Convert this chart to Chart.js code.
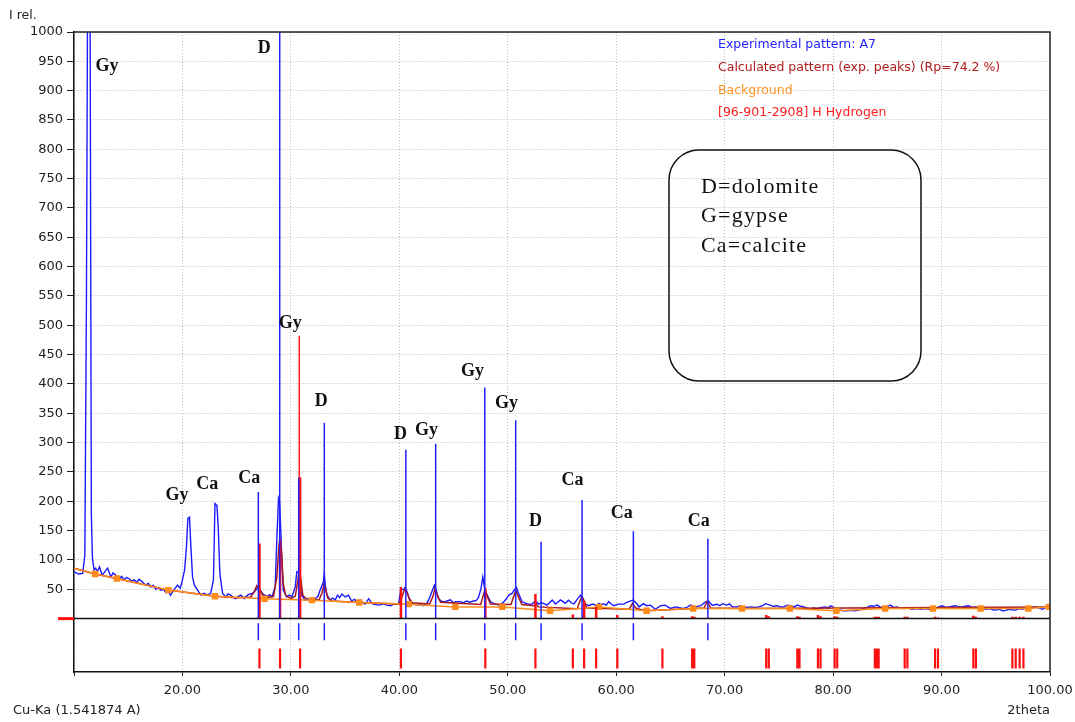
<!DOCTYPE html>
<html>
<head>
<meta charset="utf-8">
<script src="https://cdn.jsdelivr.net/npm/chart.js@4.4.1/dist/chart.umd.min.js"></script>
<style>
  html, body { margin: 0; padding: 0; background: #fff; }
  #wrap { width: 1075px; height: 722px; }
</style>
</head>
<body>
<div id="wrap"><canvas id="xrd" width="1075" height="722"></canvas></div>
<script>
// experimental pattern A7, [2theta, I rel.]
var experimental = [
  [10.0,80],[10.4,76],[10.8,77],[11.0,108],[11.15,555],[11.3,1300],[11.45,1300],[11.6,176],[11.7,103],[11.85,83],
  [12.0,86],[12.15,80],[12.35,88],[12.6,74],[12.85,80],[13.1,86],[13.4,71],[13.6,78],[13.85,74],[14.15,68],
  [14.4,72],[14.6,66],[14.85,70],[15.1,68],[15.3,64],[15.55,66],[15.8,62],[16.0,67],[16.3,63],[16.6,57],
  [16.85,60],[17.1,54],[17.3,57],[17.55,50],[17.8,53],[18.0,48.6],[18.25,50],[18.5,44],[18.7,46],[18.9,40],
  [19.2,48.6],[19.55,57],[19.8,52],[20.0,66],[20.2,83],[20.37,122],[20.5,171],[20.65,173],[20.78,122],[20.93,71],
  [21.1,57],[21.4,48.6],[21.7,40],[22.0,43],[22.3,40],[22.6,43],[22.86,66],[23.0,196],[23.18,193],[23.3,156],
  [23.45,77],[23.7,43],[24.0,37],[24.2,42],[24.45,40],[24.7,36],[24.9,34],[25.15,38],[25.4,40],[25.7,34],
  [26.0,40],[26.25,42],[26.45,43],[26.7,47],[26.87,51],[27.0,55],[27.17,48.6],[27.4,42],[27.6,40],[27.8,38],
  [28.05,41],[28.25,37],[28.55,54],[28.7,134],[28.86,205],[28.95,200],[29.08,145],[29.2,83],[29.3,48.6],[29.6,37],
  [29.85,40],[30.1,37],[30.4,54],[30.55,80],[30.7,80],[30.86,60],[31.0,40],[31.3,31.5],[31.55,34],[31.8,28.6],
  [32.0,33],[32.25,34],[32.5,38],[32.7,48.6],[33.0,63],[33.08,76],[33.17,57],[33.33,40],[33.63,31.5],[33.85,35],
  [34.1,32],[34.3,40],[34.5,36],[34.7,42],[35.0,37],[35.3,40],[35.6,30],[35.85,33],[36.1,29],[36.4,32],
  [36.6,27],[36.86,24.7],[37.17,34],[37.4,28],[37.6,24.7],[38.1,23],[38.5,25],[38.86,23],[39.2,22],[39.47,24.7],
  [39.93,25],[40.15,51],[40.4,49],[40.55,54],[40.7,46],[41.0,29],[41.3,25],[41.63,23],[42.0,24],[42.24,22],
  [42.5,25],[42.7,31.5],[43.0,46],[43.23,57],[43.4,49],[43.6,34],[43.94,29],[44.24,29],[44.4,30],[44.7,32],
  [45.0,27],[45.2,29],[45.6,29],[45.9,27],[46.2,30],[46.5,28],[46.85,30],[47.1,31],[47.3,36],[47.53,51],
  [47.7,71],[47.87,51],[48.1,40],[48.4,29],[48.6,27],[48.86,24.7],[49.3,23],[49.55,27],[49.8,32],[50.1,40],
  [50.4,43],[50.6,49],[50.8,53],[51.0,43],[51.3,29],[51.55,27],[51.8,25],[52.24,24.7],[52.55,30],[52.85,24.7],
  [53.05,27],[53.3,26],[53.6,23],[53.85,27],[54.1,31.5],[54.4,25],[54.6,28],[54.85,32],[55.1,29],[55.3,26],
  [55.6,31.5],[55.85,27],[56.1,25],[56.45,34],[56.7,40],[56.88,34],[57.07,25],[57.47,22],[57.7,24],[57.93,24.7],
  [58.15,22],[58.4,26],[58.6,24],[58.85,25],[59.1,23],[59.3,29],[59.55,25],[59.77,22],[60.2,24.7],[60.7,24.7],
  [60.9,27],[61.15,29],[61.56,31.5],[61.93,25],[62.1,20],[62.5,25.5],[62.8,22],[63.15,23],[63.6,16],[64.1,22],
  [64.5,23],[65.0,17.3],[65.3,19],[65.6,20],[65.9,18],[66.2,17.3],[66.5,19],[66.85,23],[67.3,20],[67.8,22],
  [68.2,28],[68.5,30],[68.85,23],[69.3,24.5],[69.55,22],[69.8,25.5],[70.2,23],[70.45,25],[70.7,20],[71.15,20],
  [71.4,22],[71.77,20],[72.1,19],[72.4,20],[72.8,19],[73.15,20],[73.5,22],[73.77,25.5],[74.2,23],[74.5,21],
  [74.85,22],[75.1,20],[75.45,20],[75.75,23],[76.05,22],[76.4,20],[76.7,23],[77.0,21],[77.3,20],[77.6,18],
  [77.9,16],[78.2,18],[78.5,17],[78.9,19],[79.3,20],[79.5,18],[79.77,22],[80.1,19],[80.4,14.5],[80.7,14.5],
  [81.0,13.3],[81.3,13.3],[81.7,14],[82.07,13.3],[82.45,15],[82.84,17.3],[83.15,19],[83.45,22],[83.75,21],[84.07,23],
  [84.4,19],[84.7,20],[85.0,21],[85.3,23],[85.6,19],[85.9,20],[86.2,18],[86.5,17],[86.9,18],[87.3,16],
  [87.7,17],[88.07,16],[88.45,17],[88.84,16],[89.15,18],[89.45,17],[89.75,20],[90.07,22],[90.4,19],[90.7,20],
  [91.0,21],[91.3,22],[91.6,20],[91.9,20],[92.2,21],[92.5,22],[92.8,19],[93.15,20],[93.45,18],[93.77,17],
  [94.1,16],[94.4,17],[94.7,15],[95.0,14.5],[95.3,16],[95.6,13.3],[95.9,14],[96.2,16],[96.5,15],[96.84,14.5],
  [97.15,17],[97.46,16],[97.75,18],[98.07,17],[98.4,19],[98.7,20],[99.0,18],[99.3,16],[99.6,19],[99.9,20],[100,21]
];

// calculated pattern (exp. peaks)
var calculated = [
  [10,86],[11.95,76],[13.95,68.5],[18.7,48.6],[23.0,38],[25.0,35.5],[26.3,37],[26.6,45],[26.85,56],[27.1,50],
  [27.4,40],[27.8,36],[28.4,38],[28.7,70],[28.9,125],[29.0,134],[29.15,110],[29.3,60],[29.5,40],[30.0,34],
  [30.4,38],[30.6,60],[30.75,80],[30.9,70],[31.1,40],[31.5,32],[32.6,32],[32.9,45],[33.05,60],[33.2,50],
  [33.4,35],[33.8,30],[36.3,27.6],[40.0,25],[40.3,40],[40.5,50],[40.7,45],[40.9,35],[41.2,27],[42.8,25],
  [43.1,38],[43.3,52],[43.5,40],[43.8,28],[47.5,24],[47.75,40],[47.9,50],[48.1,38],[48.4,25],[50.3,24],
  [50.55,38],[50.75,48],[51.0,36],[51.3,24],[52.4,22],[52.6,26],[52.8,20],[56.4,17],[56.7,32],[56.85,38],
  [57.05,30],[57.3,18],[61.2,16],[61.5,26],[61.8,18],[62.3,15],[62.8,13.3],[67.1,17.3],[68.1,18],[68.4,30],
  [68.7,18],[71.6,17.3],[100,20]
];

// background points
var background = [
  [10,86],[11.95,76],[13.95,68.5],[18.7,48.6],[23.0,38],[27.57,34],[31.95,31.5],[36.3,27.6],[40.86,24.7],[45.17,20],
  [49.5,20],[53.9,13.3],[58.4,20],[62.8,13.3],[67.1,17.3],[71.6,17.3],[76.0,17.3],[80.3,13.3],[84.8,17.3],[89.2,17.3],
  [93.6,17.3],[98.0,17.3],[99.9,20]
];

// peak sticks of the experimental pattern [2theta, height]
var peakSticks = [
  [27.0,216],[28.97,1300],[30.72,240],[33.08,334],[40.6,288],[43.35,298],[47.88,394],[50.73,338],
  [53.07,131],[56.85,202],[61.58,149],[68.45,136]
];

// [96-901-2908] H Hydrogen reflections [2theta, height]
var hydrogenSticks = [
  [27.1,128],[29.0,134],[30.85,241],[40.15,54],[47.93,52],[52.55,42],[56.0,7],[57.04,30],[58.15,20],[60.1,6],
  [64.26,4],[67.0,4],[67.2,3],[73.83,6],[74.07,4],[76.7,4],[76.9,3],[78.6,6],[78.84,4],[80.14,4],
  [80.38,3],[83.85,3],[83.95,3],[84.05,3],[84.2,3],[86.6,3],[86.85,3],[89.4,3],[89.67,2],[92.93,5],
  [93.17,3],[96.53,3],[96.84,3],[97.2,3],[97.55,3]
];
var calcStick = [[30.77,482]];

var peakLabels = [
  ['Gy',13.05,942],['D',27.54,972],['Gy',29.94,504],['D',32.8,370],['D',40.1,314],['Gy',42.5,321],
  ['Gy',46.74,422],['Gy',49.88,367],['Gy',19.5,210],['Ca',22.28,229],['Ca',26.16,239],['D',52.55,165],
  ['Ca',55.97,236],['Ca',60.5,180],['Ca',67.6,165]
];

var legendItems = [
  ['Experimental pattern: A7', '#2222ff'],
  ['Calculated pattern (exp. peaks) (Rp=74.2 %)', '#b01c1c'],
  ['Background', '#ff9322'],
  ['[96-901-2908] H Hydrogen', '#ff1c1c']
];
var boxLines = ['D=dolomite', 'G=gypse', 'Ca=calcite'];

var yTicks = [50,100,150,200,250,300,350,400,450,500,550,600,650,700,750,800,850,900,950,1000];
var xTicks = [10,20,30,40,50,60,70,80,90,100];

var BLUE_TICK = [-8, -37];
var RED_TICK = [-51, -85];

function pts(arr) {
  return arr.map(function (p) { return { x: p[0], y: p[1] }; });
}
// vertical sticks with gaps between them
function sticks(arr, lo, hi) {
  var out = [];
  for (var i = 0; i < arr.length; i++) {
    out.push({ x: arr[i][0], y: lo === null ? 0 : lo });
    out.push({ x: arr[i][0], y: hi === null ? arr[i][1] : hi });
    out.push({ x: arr[i][0], y: null });
  }
  return out;
}

var overlay = {
  id: 'overlay',
  afterDatasetsDraw: function (chart) {
    var ctx = chart.ctx, a = chart.chartArea, y0 = chart.scales.y.getPixelForValue(0);
    ctx.save();
    ctx.strokeStyle = '#111';
    ctx.lineWidth = 1.5;
    ctx.beginPath();
    ctx.moveTo(a.left, y0); ctx.lineTo(a.right, y0);
    ctx.stroke();
    ctx.strokeStyle = '#ff1010';
    ctx.lineWidth = 3;
    ctx.beginPath();
    ctx.moveTo(a.left - 16, y0); ctx.lineTo(a.left, y0);
    ctx.stroke();
    // frame top and right
    ctx.strokeStyle = '#222';
    ctx.lineWidth = 1.5;
    ctx.beginPath();
    ctx.moveTo(a.left, a.top); ctx.lineTo(a.right, a.top); ctx.lineTo(a.right, a.bottom);
    ctx.stroke();
    ctx.restore();
  },
  afterDraw: function (chart) {
    var ctx = chart.ctx, a = chart.chartArea, xs = chart.scales.x, ys = chart.scales.y;
    ctx.save();
    // legend
    ctx.font = '12.5px "DejaVu Sans"';
    ctx.textBaseline = 'middle';
    ctx.textAlign = 'left';
    legendItems.forEach(function (it, i) {
      ctx.fillStyle = it[1];
      ctx.fillText(it[0], a.right - 332, a.top + 13 + i * 22.7);
    });
    // mineral key box
    ctx.strokeStyle = '#111';
    ctx.lineWidth = 1.5;
    ctx.beginPath();
    ctx.roundRect(a.left + 595, a.top + 118, 252, 231, 30);
    ctx.stroke();
    ctx.fillStyle = '#111';
    ctx.font = '22px "Liberation Serif"';
    ctx.letterSpacing = '1.2px';
    boxLines.forEach(function (t, i) {
      ctx.fillText(t, a.left + 627, a.top + 155 + i * 29.5);
    });
    ctx.letterSpacing = '0px';
    // peak labels
    ctx.font = 'bold 18px "Liberation Serif"';
    ctx.textAlign = 'center';
    peakLabels.forEach(function (l) {
      ctx.fillText(l[0], xs.getPixelForValue(l[1]), ys.getPixelForValue(l[2]));
    });
    // axis captions
    ctx.font = '12.5px "DejaVu Sans"';
    ctx.fillStyle = '#222';
    ctx.textAlign = 'left';
    ctx.fillText('I rel.', 9, 16);
    ctx.font = '13px "DejaVu Sans"';
    ctx.fillText('Cu-Ka (1.541874 A)', 13, 711);
    ctx.textAlign = 'right';
    ctx.fillText('2theta', a.right, 711);
    ctx.restore();
  }
};

new Chart(document.getElementById('xrd'), {
  type: 'line',
  data: {
    datasets: [
      { label: 'peaks', data: sticks(peakSticks, null, null), borderColor: '#2020ff', borderWidth: 1.5, order: 1 },
      { label: 'peak ticks', data: sticks(peakSticks, BLUE_TICK[0], BLUE_TICK[1]), borderColor: '#2020ff', borderWidth: 1.5, order: 1 },
      { label: 'calc stick', data: sticks(calcStick, null, null), borderColor: '#ff2020', borderWidth: 1.5, order: 2 },
      { label: 'hydrogen', data: sticks(hydrogenSticks, null, null), borderColor: '#ff1010', borderWidth: 2.5, order: 2 },
      { label: 'hydrogen ticks', data: sticks(hydrogenSticks, RED_TICK[0], RED_TICK[1]), borderColor: '#ff1010', borderWidth: 2.2, order: 2 },
      { label: 'Background', data: pts(background), borderColor: '#ff8c1a', backgroundColor: '#ff8c1a', borderWidth: 1.5,
        pointStyle: 'rect', pointRadius: function (c) { return c.dataIndex === 0 ? 0 : 3.5; }, order: 3 },
      { label: 'Calculated', data: pts(calculated), borderColor: '#a81818', borderWidth: 1.5, order: 4 },
      { label: 'Experimental', data: pts(experimental), borderColor: '#1a1aff', borderWidth: 1.4, order: 5 }
    ]
  },
  options: {
    responsive: false,
    animation: false,
    devicePixelRatio: 1,
    spanGaps: false,
    layout: { padding: { top: 32, right: 25, left: 0, bottom: 0 } },
    elements: { point: { radius: 0, hoverRadius: 0 }, line: { tension: 0 } },
    plugins: { legend: { display: false }, tooltip: { enabled: false } },
    events: [],
    scales: {
      x: {
        type: 'linear', min: 10, max: 100,
        afterBuildTicks: function (s) { s.ticks = xTicks.map(function (v) { return { value: v }; }); },
        afterFit: function (s) { s.height = 50; s.paddingLeft = 0; s.paddingRight = 0; },
        ticks: {
          autoSkip: false, maxRotation: 0, padding: 7, color: '#222',
          font: { family: 'DejaVu Sans', size: 13 },
          callback: function (v) { return v === 10 ? '' : v.toFixed(2); }
        },
        grid: { color: '#bdbdbd', tickColor: '#222', tickLength: 4, lineWidth: 1 },
        border: { color: '#111', width: 1.5, dash: [1, 2] }
      },
      y: {
        type: 'linear', min: -91, max: 1000,
        afterBuildTicks: function (s) { s.ticks = yTicks.map(function (v) { return { value: v }; }); },
        afterFit: function (s) { s.width = 74; s.paddingTop = 0; s.paddingBottom = 0; },
        ticks: {
          padding: 4, color: '#222', font: { family: 'DejaVu Sans', size: 13 },
          callback: function (v) { return String(v); }
        },
        grid: { color: '#bdbdbd', tickColor: '#222', tickLength: 7, lineWidth: 1 },
        border: { color: '#111', width: 1.5, dash: [1, 2] }
      }
    }
  },
  plugins: [overlay]
});
</script>
</body>
</html>
